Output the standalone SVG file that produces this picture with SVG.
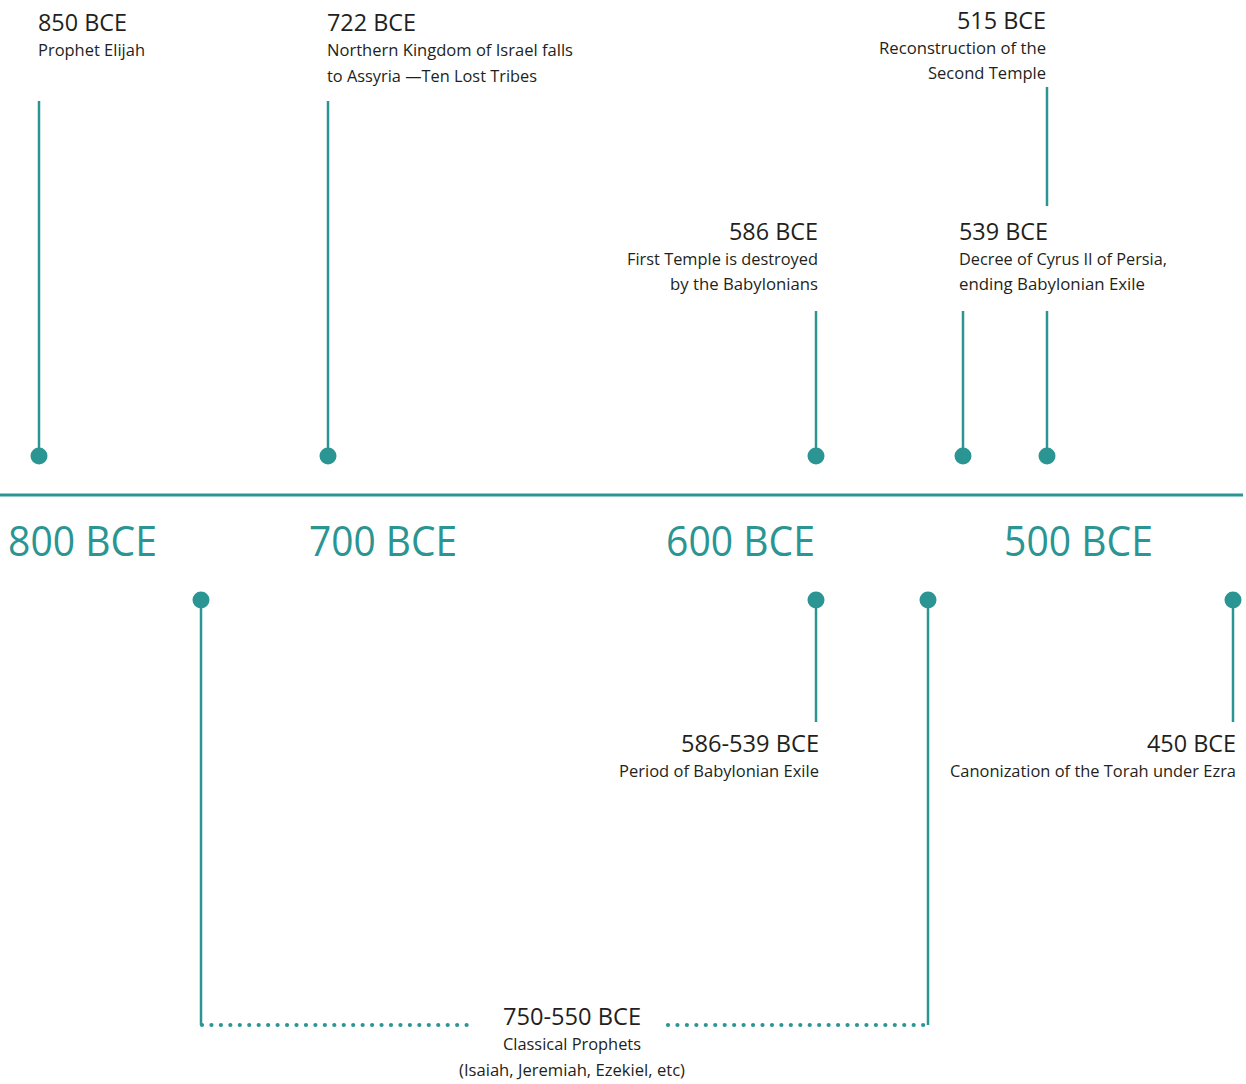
<svg xmlns="http://www.w3.org/2000/svg" width="1246" height="1084" viewBox="0 0 1246 1084">
<style>
.ln{stroke:#2a9592;stroke-width:2.5;fill:none}
.ax{stroke:#2a9592;stroke-width:3;fill:none}
.dt{stroke:#2a9592;stroke-width:4.2;fill:none;stroke-linecap:round;stroke-dasharray:0 9.45}
.dot{fill:#2a9592}
.yr{font-family:"Open Sans","Noto Sans",sans-serif;font-size:24px;fill:#231f20}
.ds{font-family:"Open Sans","Noto Sans",sans-serif;font-size:17px;fill:#231f20}
.big{font-family:"Open Sans","Noto Sans",sans-serif;font-size:42px;fill:#2a9592}
</style>
<rect width="1246" height="1084" fill="#fff"/>
<g id="connectors">
<line class="ax" x1="0" y1="495" x2="1243" y2="495"/>
<line class="ln" x1="39" y1="101" x2="39" y2="456"/>
<line class="ln" x1="328" y1="101" x2="328" y2="456"/>
<line class="ln" x1="1047" y1="87" x2="1047" y2="206"/>
<line class="ln" x1="816" y1="311" x2="816" y2="456"/>
<line class="ln" x1="963" y1="311" x2="963" y2="456"/>
<line class="ln" x1="1047" y1="311" x2="1047" y2="456"/>
<line class="ln" x1="201" y1="600" x2="201" y2="1025"/>
<line class="ln" x1="816" y1="600" x2="816" y2="722"/>
<line class="ln" x1="928" y1="600" x2="928" y2="1025"/>
<line class="ln" x1="1233" y1="600" x2="1233" y2="722"/>
<line class="dt" x1="202" y1="1025" x2="472" y2="1025"/>
<line class="dt" x1="668" y1="1025" x2="929" y2="1025"/>
</g>
<g id="axis-labels">
<text class="big" x="8" y="556" textLength="149" lengthAdjust="spacingAndGlyphs">800 BCE</text>
<text class="big" x="309" y="556" textLength="148" lengthAdjust="spacingAndGlyphs">700 BCE</text>
<text class="big" x="666" y="556" textLength="149" lengthAdjust="spacingAndGlyphs">600 BCE</text>
<text class="big" x="1004" y="556" textLength="149" lengthAdjust="spacingAndGlyphs">500 BCE</text>
</g>
<g id="e850">
<circle class="dot" cx="39" cy="456" r="8.5"/>
<text class="yr" x="38" y="31" textLength="89" lengthAdjust="spacingAndGlyphs">850 BCE</text>
<text class="ds" x="38" y="56" textLength="107" lengthAdjust="spacingAndGlyphs">Prophet Elijah</text>
</g>
<g id="e722">
<circle class="dot" cx="328" cy="456" r="8.5"/>
<text class="yr" x="327" y="31" textLength="89" lengthAdjust="spacingAndGlyphs">722 BCE</text>
<text class="ds" x="327" y="56" textLength="246" lengthAdjust="spacingAndGlyphs">Northern Kingdom of Israel falls</text>
<text class="ds" x="327" y="82" textLength="210" lengthAdjust="spacingAndGlyphs">to Assyria —Ten Lost Tribes</text>
</g>
<g id="e515">
<circle class="dot" cx="1047" cy="456" r="8.5"/>
<text class="yr" x="957" y="29" textLength="89" lengthAdjust="spacingAndGlyphs">515 BCE</text>
<text class="ds" x="879" y="54" textLength="167" lengthAdjust="spacingAndGlyphs">Reconstruction of the</text>
<text class="ds" x="928" y="79" textLength="118" lengthAdjust="spacingAndGlyphs">Second Temple</text>
</g>
<g id="e586">
<circle class="dot" cx="816" cy="456" r="8.5"/>
<text class="yr" x="729" y="240" textLength="89" lengthAdjust="spacingAndGlyphs">586 BCE</text>
<text class="ds" x="627" y="265" textLength="191" lengthAdjust="spacingAndGlyphs">First Temple is destroyed</text>
<text class="ds" x="670" y="290" textLength="148" lengthAdjust="spacingAndGlyphs">by the Babylonians</text>
</g>
<g id="e539">
<circle class="dot" cx="963" cy="456" r="8.5"/>
<text class="yr" x="959" y="240" textLength="89" lengthAdjust="spacingAndGlyphs">539 BCE</text>
<text class="ds" x="959" y="265" textLength="208" lengthAdjust="spacingAndGlyphs">Decree of Cyrus II of Persia,</text>
<text class="ds" x="959" y="290" textLength="186" lengthAdjust="spacingAndGlyphs">ending Babylonian Exile</text>
</g>
<g id="e586-539">
<circle class="dot" cx="816" cy="600" r="8.5"/>
<text class="yr" x="681" y="752" textLength="138" lengthAdjust="spacingAndGlyphs">586-539 BCE</text>
<text class="ds" x="619" y="777" textLength="200" lengthAdjust="spacingAndGlyphs">Period of Babylonian Exile</text>
</g>
<g id="e450">
<circle class="dot" cx="1233" cy="600" r="8.5"/>
<text class="yr" x="1147" y="752" textLength="89" lengthAdjust="spacingAndGlyphs">450 BCE</text>
<text class="ds" x="950" y="777" textLength="286" lengthAdjust="spacingAndGlyphs">Canonization of the Torah under Ezra</text>
</g>
<g id="e750-550">
<circle class="dot" cx="201" cy="600" r="8.5"/>
<circle class="dot" cx="928" cy="600" r="8.5"/>
<text class="yr" x="503" y="1025" textLength="138" lengthAdjust="spacingAndGlyphs">750-550 BCE</text>
<text class="ds" x="503" y="1050" textLength="138" lengthAdjust="spacingAndGlyphs">Classical Prophets</text>
<text class="ds" x="459" y="1076" textLength="226" lengthAdjust="spacingAndGlyphs">(Isaiah, Jeremiah, Ezekiel, etc)</text>
</g>
</svg>
